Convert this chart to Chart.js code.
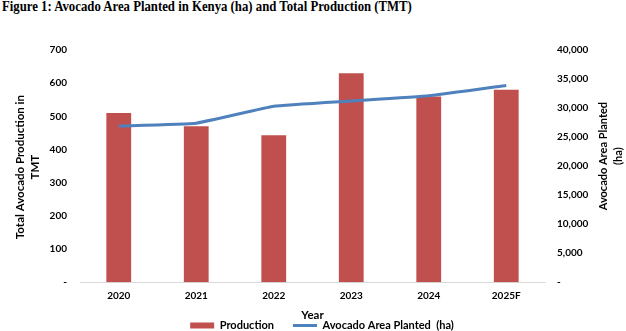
<!DOCTYPE html>
<html>
<head>
<meta charset="utf-8">
<script src="https://cdn.jsdelivr.net/npm/chart.js@4.4.0/dist/chart.umd.min.js"></script>
<style>
  html, body { margin: 0; padding: 0; background: #fff; }
  #wrap { position: relative; width: 626px; height: 331px; }
  #title {
    position: absolute; left: 2px; top: -2px; white-space: nowrap;
    font: bold 15px "Liberation Serif", "Times New Roman", serif; color: #000;
    transform-origin: 0 0;
  }
  canvas { position: absolute; left: 0; top: 0; }
</style>
</head>
<body>
<div id="wrap">
  <div id="title">Figure 1: Avocado Area Planted in Kenya (ha) and Total Production (TMT)</div>
  <canvas id="chart" width="626" height="331"></canvas>
</div>
<script>
// data
const years = ['2020', '2021', '2022', '2023', '2024', '2025F'];
const production = [510, 470, 443, 630, 560, 580];      // TMT
const areaPlanted = [26900, 27400, 30300, 31200, 32100, 33900]; // ha
const leftTicks = [0, 100, 200, 300, 400, 500, 600, 700];
const rightTicks = [0, 5000, 10000, 15000, 20000, 25000, 30000, 35000, 40000];

const RED = '#C0504D';
const BLUE = '#4F81BD';
const FONT = 'Lato, "Open Sans", sans-serif';

// squeeze the title to the width used in the original
const t = document.getElementById('title');
t.style.transform = 'scaleX(' + (410 / t.offsetWidth) + ')';

function fmt(v) {
  return v === 0 ? '-' : v.toLocaleString('en-US');
}

// axis titles, both read bottom-to-top like the original
const axisTitles = {
  id: 'axisTitles',
  afterDraw(chart) {
    const ctx = chart.ctx;
    const area = chart.chartArea;
    ctx.save();
    ctx.fillStyle = '#000';
    ctx.textAlign = 'center';
    ctx.textBaseline = 'middle';
    const drawRot = (x, y, text) => {
      ctx.save();
      ctx.translate(x, y);
      ctx.rotate(-Math.PI / 2);
      ctx.fillText(text, 0, 0);
      ctx.restore();
    };
    const midY = (area.top + area.bottom) / 2;
    ctx.font = 'bold 11.5px ' + FONT;
    drawRot(20, midY + 1, 'Total Avocado Production in');
    drawRot(35, midY + 1, 'TMT');
    ctx.font = 'bold 11px ' + FONT;
    drawRot(603, midY - 10, 'Avocado Area Planted');
    drawRot(618, midY - 10, '(ha)');
    ctx.restore();
  }
};

new Chart(document.getElementById('chart'), {
  type: 'bar',
  data: {
    labels: years,
    datasets: [
      {
        label: 'Production',
        data: production,
        backgroundColor: RED,
        borderWidth: 0,
        barPercentage: 0.32,
        categoryPercentage: 1,
        yAxisID: 'y',
        order: 1,
        pointStyle: 'rect'
      },
      {
        type: 'line',
        label: 'Avocado Area Planted  (ha)',
        data: areaPlanted,
        borderColor: BLUE,
        backgroundColor: BLUE,
        borderWidth: 3,
        pointRadius: 0,
        tension: 0.1,
        yAxisID: 'y1',
        order: 0,
        pointStyle: 'line'
      }
    ]
  },
  options: {
    responsive: false,
    animation: false,
    // left padding only nudges the legend right; the y axis width below keeps the plot at x=80
    layout: { padding: { top: 50, left: 18, right: 0, bottom: -10 } },
    plugins: {
      legend: {
        position: 'bottom',
        labels: {
          usePointStyle: true,
          pointStyleWidth: 24,
          boxHeight: 6,
          padding: 19,
          color: '#000',
          font: { family: FONT, size: 11, weight: 'bold' },
          sort: (a, b) => a.datasetIndex - b.datasetIndex
        }
      },
      tooltip: { enabled: false }
    },
    scales: {
      x: {
        grid: { display: false },
        border: { color: '#D9D9D9', width: 1 },
        afterFit: s => { s.height = 18.8; },
        ticks: { color: '#000', padding: 0, font: { family: FONT, size: 10, weight: 'bold' } },
        title: {
          display: true, text: 'Year', color: '#000', padding: { top: 0, bottom: -21.1 },
          font: { family: FONT, size: 11.5, weight: 'bold' }
        }
      },
      y: {
        position: 'left',
        min: 0, max: 700,
        grid: { display: false },
        border: { display: false },
        afterBuildTicks: s => { s.ticks = leftTicks.map(v => ({ value: v })); },
        afterFit: s => { s.width = 62; },
        ticks: {
          color: '#000', padding: 5,
          font: { family: FONT, size: 10, weight: 'bold' },
          callback: v => fmt(v)
        }
      },
      y1: {
        position: 'right',
        min: 0, max: 40000,
        grid: { display: false },
        border: { display: false },
        afterBuildTicks: s => { s.ticks = rightTicks.map(v => ({ value: v })); },
        afterFit: s => { s.width = 81; },
        ticks: {
          color: '#000', padding: 4,
          font: { family: FONT, size: 10, weight: 'bold' },
          callback: v => fmt(v)
        }
      }
    }
  },
  plugins: [axisTitles]
});
</script>
</body>
</html>
